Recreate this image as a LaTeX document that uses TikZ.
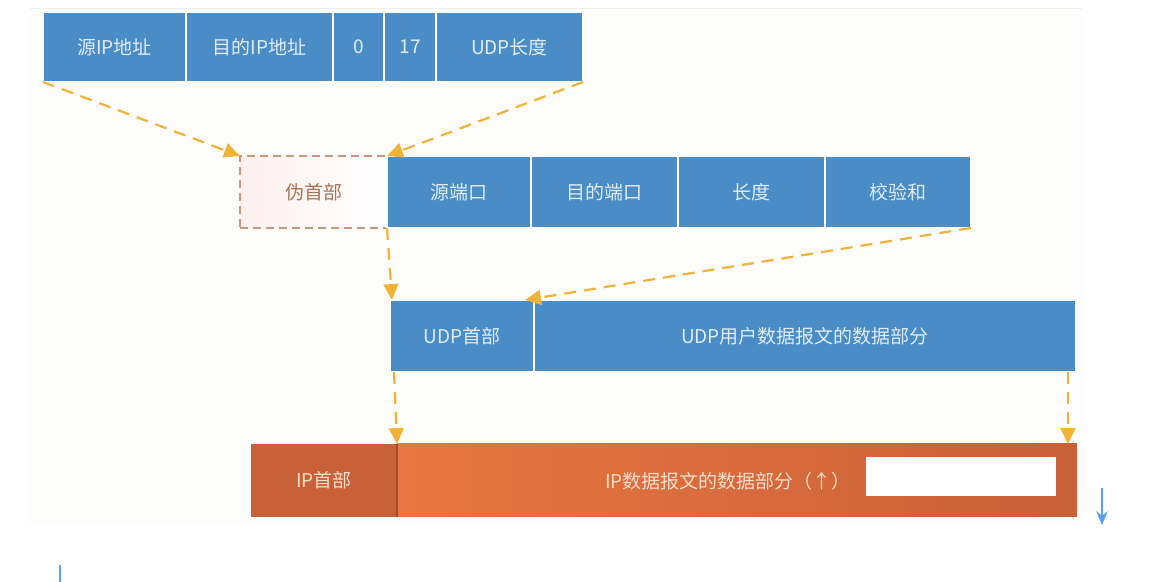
\documentclass[tikz,border=0pt]{standalone}
\usepackage{fontspec}
\setmainfont{Noto Sans CJK SC}
\usepackage{tikz}
\usetikzlibrary{arrows.meta,positioning,calc}
\usepackage{xcolor}
\definecolor{udpblue}{RGB}{74,140,198}
\definecolor{udptext}{RGB}{226,236,246}
\definecolor{iporange}{RGB}{232,118,64}
\definecolor{ipdark}{RGB}{200,96,56}
\definecolor{iptext}{RGB}{246,222,204}
\definecolor{flow}{RGB}{242,178,56}
\definecolor{pseudo}{RGB}{200,152,124}
\definecolor{pseudotext}{RGB}{168,116,84}
\definecolor{markblue}{RGB}{90,160,240}
\definecolor{paper}{RGB}{253,253,252}

\begin{document}
\begin{tikzpicture}[x=0.5pt, y=-0.5pt,
  field/.style={anchor=north west, inner sep=0pt, outer sep=0pt,
    fill=udpblue, draw=white, line width=0.8pt, text=udptext,
    font=\fontsize{9.5}{11}\selectfont},
  flowarrow/.style={dashed, dash pattern=on 6pt off 4pt, line width=1.1pt,
    flow, -{Triangle[length=2.8mm, width=2.6mm]}}]
\useasboundingbox (0,0) rectangle (1168,582);
\fill[paper] (30,8) rectangle (1082,525);
\draw[black!6] (30,8) -- (1082,8);
% pseudo header fields
\node[field, minimum width=71.5pt, minimum height=35pt] (sip) at (43,12) {源IP地址};
\node[field, minimum width=73.5pt, minimum height=35pt] (dip) at (186,12) {目的IP地址};
\node[field, minimum width=25.5pt, minimum height=35pt] (zero) at (333,12) {0};
\node[field, minimum width=26pt, minimum height=35pt] (proto) at (384,12) {17};
\node[field, minimum width=73.5pt, minimum height=35pt] (ulen) at (436,12) {UDP长度};
% udp header fields
\node[anchor=north west, inner sep=0pt, outer sep=0pt, minimum width=73.5pt,
  minimum height=36pt, draw=pseudo, dashed, dash pattern=on 4pt off 2.5pt,
  line width=1pt, left color=red!6, right color=white, text=pseudotext,
  font=\fontsize{9.5}{11}\selectfont] (phdr) at (240,156) {伪首部};
\node[field, minimum width=72pt, minimum height=36pt] (sport) at (387,156) {源端口};
\node[field, minimum width=73.5pt, minimum height=36pt] (dport) at (531,156) {目的端口};
\node[field, minimum width=73.5pt, minimum height=36pt] (len) at (678,156) {长度};
\node[field, minimum width=73pt, minimum height=36pt] (csum) at (825,156) {校验和};
% udp datagram
\node[field, minimum width=72pt, minimum height=36pt] (uhdr) at (390,300) {UDP首部};
\node[field, minimum width=271pt, minimum height=36pt] (udata) at (534,300) {UDP用户数据报文的数据部分};
% ip datagram
\node[anchor=north west, inner sep=0pt, outer sep=0pt, minimum width=73pt,
  minimum height=36.5pt, fill=ipdark, text=iptext,
  font=\fontsize{9.5}{11}\selectfont] (iphdr) at (251,444) {IP首部};
\node[anchor=north west, inner sep=0pt, outer sep=0pt, minimum width=340pt,
  minimum height=36.5pt, left color=iporange, right color=ipdark] (ipdata) at (397,444) {};
\draw[ipdark!80!black, line width=0.6pt] (ipdata.north west) -- (ipdata.south west);
\node[text=iptext, font=\fontsize{9.5}{11}\selectfont] (iptxt) at (728,481)
  {IP数据报文的数据部分（↑）};
\node[anchor=north west, inner sep=0pt, minimum width=95pt, minimum height=19.5pt,
  fill=white] (blank) at (866,457) {};
% dashed flow
\draw[flowarrow] (sip.south west) -- (phdr.north west);
\draw[flowarrow] (ulen.south east) -- (phdr.north east);
\draw[flowarrow] (phdr.south east) -- ($(uhdr.north west)+(2,0)$);
\draw[flowarrow] (csum.south east) -- ($(udata.north west)+(-9,0)$);
\draw[flowarrow] ($(uhdr.south west)+(4,0)$) -- (ipdata.north west);
\draw[flowarrow] ($(udata.south east)+(-8,0)$) -- ($(ipdata.north east)+(-9,0)$);
% stray marks
\coordinate (m1) at (1102,488);
\coordinate (m2) at (1102,525);
\draw[markblue, line width=1pt, -{Stealth[length=2.4mm, width=2mm]}] (m1) -- (m2);
\coordinate (m3) at (60,565);
\coordinate (m4) at (60,582);
\draw[markblue, line width=1.2pt] (m3) -- (m4);
\end{tikzpicture}
\end{document}
